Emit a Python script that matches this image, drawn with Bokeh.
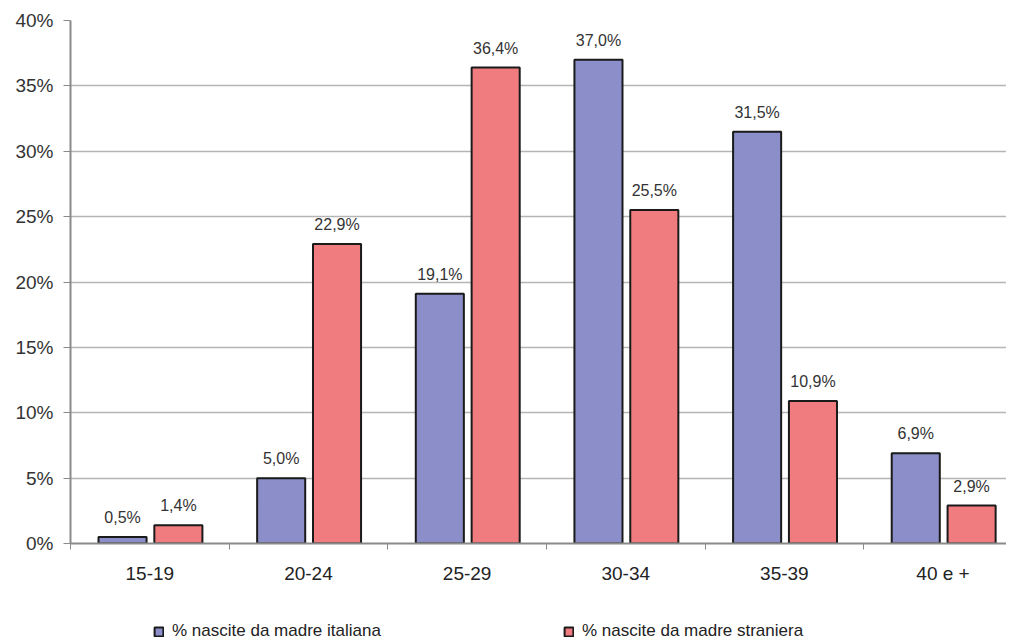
from bokeh.plotting import figure
from bokeh.models import ColumnDataSource, Range1d, FixedTicker, Legend, LegendItem
from bokeh.layouts import column
from bokeh.transform import dodge
from bokeh.core.properties import value
from bokeh.embed import file_html
from bokeh.resources import INLINE

categories = ["15-19", "20-24", "25-29", "30-34", "35-39", "40 e +"]
italiana = [0.5, 5.0, 19.1, 37.0, 31.5, 6.9]
straniera = [1.4, 22.9, 36.4, 25.5, 10.9, 2.9]
y_ticks = [0, 5, 10, 15, 20, 25, 30, 35, 40]
series_names = ["% nascite da madre italiana", "% nascite da madre straniera"]

BLUE = "#8b8ec8"
RED = "#f17c7f"
FONT = "Liberation Sans"

def fmt(v):
    return ("%.1f" % v).replace(".", ",") + "%"

centers = [i + 0.5 for i in range(len(categories))]
src = ColumnDataSource(dict(
    x=centers, ita=italiana, stra=straniera,
    ita_lbl=[fmt(v) for v in italiana],
    stra_lbl=[fmt(v) for v in straniera],
))

p = figure(width=1006, height=598, output_backend="svg", toolbar_location=None,
           x_range=Range1d(0, 5.9), y_range=Range1d(0, 40),
           min_border_left=70, min_border_right=0, min_border_top=20,
           min_border_bottom=55)
p.outline_line_color = None
p.background_fill_color = "white"
p.border_fill_color = "white"

w = 0.303
p.vbar(x=dodge("x", -0.172, range=p.x_range), top="ita", width=w, source=src,
       fill_color=BLUE, line_color="#1a1a1a", line_width=2)
p.vbar(x=dodge("x", 0.18, range=p.x_range), top="stra", width=w, source=src,
       fill_color=RED, line_color="#1a1a1a", line_width=2)

p.text(x=dodge("x", -0.172, range=p.x_range), y="ita", text="ita_lbl", source=src,
       text_align="center", text_baseline="bottom", y_offset=-11,
       text_font=value(FONT), text_font_size="16px", text_color="#333333")
p.text(x=dodge("x", 0.18, range=p.x_range), y="stra", text="stra_lbl", source=src,
       text_align="center", text_baseline="bottom", y_offset=-11,
       text_font=value(FONT), text_font_size="16px", text_color="#333333")

# axes
p.yaxis.ticker = FixedTicker(ticks=y_ticks)
p.yaxis.major_label_overrides = {t: "%d%%" % t for t in y_ticks}
p.yaxis.minor_tick_line_color = None
p.yaxis.major_tick_out = 7
p.yaxis.major_tick_in = 0
p.yaxis.major_tick_line_color = "#8a8a8a"
p.yaxis.axis_line_color = "#8a8a8a"
p.yaxis.axis_line_width = 2
p.yaxis.major_label_standoff = 10
p.yaxis.major_label_text_font = FONT
p.yaxis.major_label_text_font_size = "19px"
p.yaxis.major_label_text_color = "#333333"

p.xaxis.ticker = FixedTicker(ticks=centers, minor_ticks=list(range(len(categories) + 1)))
p.xaxis.major_label_overrides = {c: lab for c, lab in zip(centers, categories)}
p.xaxis.major_tick_line_color = None
p.xaxis.minor_tick_out = 6
p.xaxis.minor_tick_in = 0
p.xaxis.minor_tick_line_color = "#8a8a8a"
p.xaxis.axis_line_color = "#8a8a8a"
p.xaxis.axis_line_width = 2
p.xaxis.major_label_standoff = 13
p.xaxis.major_label_text_font = FONT
p.xaxis.major_label_text_font_size = "19px"
p.xaxis.major_label_text_color = "#222222"

p.xgrid.grid_line_color = None
p.ygrid.ticker = FixedTicker(ticks=y_ticks)
p.ygrid.grid_line_color = "#b5b5b5"
p.ygrid.grid_line_width = 1.5

# legend strip as a separate small figure (its frame is aligned with the main frame)
lg = figure(width=1006, height=42, output_backend="svg", toolbar_location=None,
            x_range=Range1d(0, 1), y_range=Range1d(0, 1),
            min_border_left=0, min_border_right=0, min_border_top=0,
            min_border_bottom=0)
lg.axis.visible = False
lg.grid.visible = False
lg.outline_line_color = None
# hidden legend-only proxies
proxy = ColumnDataSource(dict(x=[0.5], top=[0.5]))
d1 = lg.vbar(x="x", top="top", width=0.1, source=proxy, visible=False,
             fill_color=BLUE, line_color="#1a1a1a", line_width=2)
d2 = lg.vbar(x="x", top="top", width=0.1, source=proxy, visible=False,
             fill_color=RED, line_color="#1a1a1a", line_width=2)

legend = Legend(items=[LegendItem(label=series_names[0], renderers=[d1]),
                       LegendItem(label=series_names[1], renderers=[d2])],
                orientation="horizontal", location=(83, -1),
                glyph_width=11, glyph_height=11, label_standoff=8,
                label_width=391, spacing=0, padding=0, margin=0,
                inactive_fill_alpha=0,
                border_line_color=None, background_fill_alpha=0,
                label_text_font=FONT, label_text_font_size="17px",
                label_text_color="#222222")
lg.add_layout(legend, "center")

layout = column(p, lg, spacing=0)
open("out.html", "w").write(file_html(layout, INLINE))
